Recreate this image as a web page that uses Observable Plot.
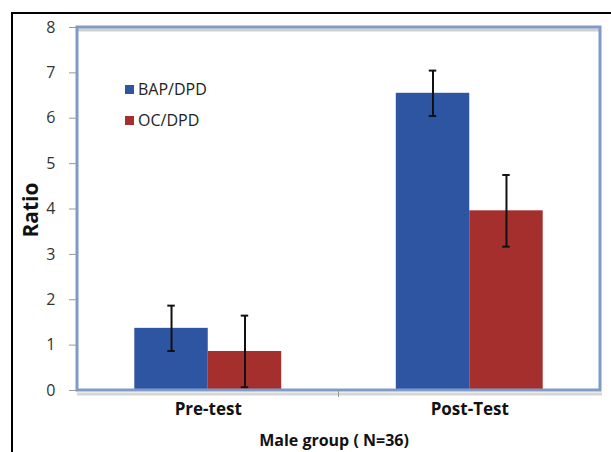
<!DOCTYPE html>
<html><head><meta charset="utf-8">
<script src="https://cdn.jsdelivr.net/npm/d3@7"></script>
<script src="https://cdn.jsdelivr.net/npm/@observablehq/plot@0.6"></script>
<style>
body{margin:0;background:#fff;font-family:"Open Sans",sans-serif}
#wrap{position:relative;width:611px;height:452px;overflow:hidden}
#border{position:absolute;left:11px;top:12px;width:640px;height:480px;border:2px solid #000;box-sizing:border-box}
.lg{position:absolute;left:125px;font-size:16px;color:#222;display:flex;align-items:center;line-height:1}
.lg span.sw{display:inline-block;width:9px;height:9px;margin-right:4px}
#ylab{position:absolute;left:30px;top:210px;transform:translate(-50%,-50%) rotate(-90deg);font-size:21px;font-weight:bold;color:#111;white-space:nowrap}
#xlab{position:absolute;left:334px;top:440px;transform:translate(-50%,-50%);font-size:16px;font-weight:bold;color:#111;white-space:nowrap}
</style></head><body>
<div id="wrap"><div id="border"></div></div>
<script>
const groups = ["Pre-test", "Post-Test"];
const series = ["BAP/DPD", "OC/DPD"];
const bapValues = [1.37, 6.55];
const ocValues = [0.86, 3.96];
const bapErr = [0.50, 0.50];
const ocErr = [0.79, 0.79];
const yTicks = [0, 1, 2, 3, 4, 5, 6, 7, 8];
const colors = ["#2E55A2", "#A52F2C"];
const xTitle = "Male group ( N=36)";
const yTitle = "Ratio";

const rows = [];
groups.forEach((g, i) => {
  rows.push({group: g, series: series[0], value: bapValues[i], err: bapErr[i]});
  rows.push({group: g, series: series[1], value: ocValues[i], err: ocErr[i]});
});
rows.forEach(r => { r.lo = r.value - r.err; r.hi = r.value + r.err; });

const W = 611, H = 452, mL = 77, mR = 11, mT = 27, mB = 62;

const plot = Plot.plot({
  width: W, height: H,
  marginLeft: mL, marginRight: mR, marginTop: mT, marginBottom: mB,
  style: {fontFamily: "Open Sans", fontSize: "16px", background: "transparent", overflow: "visible"},
  fx: {domain: groups, paddingInner: 0, paddingOuter: 0, round: false, label: null, axis: null},
  x: {domain: series, paddingInner: 0, paddingOuter: 0.78, round: false, axis: null},
  y: {domain: [0, 8], axis: null},
  color: {domain: series, range: colors},
  marks: [
    Plot.axisY({ticks: yTicks, tickSize: 8, tickPadding: 14, stroke: "#999", fill: "#333", fontSize: 16, label: null}),
    Plot.axisFx({anchor: "bottom", tickSize: 0, tickPadding: 12, fontWeight: "bold", fontSize: 17, fill: "#111", label: null}),
    Plot.barY(rows, {fx: "group", x: "series", y: "value", fill: "series"}),
    Plot.ruleX(rows, {fx: "group", x: "series", y1: "lo", y2: "hi", stroke: "#111", strokeWidth: 2}),
    Plot.tickY(rows, {fx: "group", x: "series", y: "lo", stroke: "#111", strokeWidth: 2, insetLeft: 33, insetRight: 33}),
    Plot.tickY(rows, {fx: "group", x: "series", y: "hi", stroke: "#111", strokeWidth: 2, insetLeft: 33, insetRight: 33})
  ]
});

const wrap = document.getElementById("wrap");
wrap.insertBefore(plot, wrap.firstChild);
plot.style.position = "absolute";
plot.style.left = "0px";
plot.style.top = "0px";

// plot-area frame (Excel style), drawn from the margins
const svg = d3.select(plot);
const g = svg.append("g");
g.append("line").attr("x1", mL).attr("x2", W - mR).attr("y1", mT + 3).attr("y2", mT + 3).attr("stroke", "#d0d0d0").attr("stroke-width", 3);
g.append("line").attr("x1", mL).attr("x2", W - mR + 2).attr("y1", H - mB + 4).attr("y2", H - mB + 4).attr("stroke", "#d6d6d6").attr("stroke-width", 3);
g.append("rect").attr("x", mL).attr("y", mT).attr("width", W - mL - mR).attr("height", H - mT - mB)
  .attr("fill", "none").attr("stroke", "#7f9cc6").attr("stroke-width", 3);
g.append("line").attr("x1", (mL + W - mR) / 2).attr("x2", (mL + W - mR) / 2).attr("y1", H - mB).attr("y2", H - mB + 7).attr("stroke", "#999").attr("stroke-width", 1);

// legend
series.forEach((s, i) => {
  const d = document.createElement("div");
  d.className = "lg";
  d.style.top = (81 + i * 31) + "px";
  d.innerHTML = `<span class="sw" style="background:${colors[i]}"></span>${s}`;
  wrap.appendChild(d);
});
const xl = document.createElement("div"); xl.id = "xlab"; xl.textContent = xTitle; wrap.appendChild(xl);
const yl = document.createElement("div"); yl.id = "ylab"; yl.textContent = yTitle; wrap.appendChild(yl);
</script>
</body></html>
